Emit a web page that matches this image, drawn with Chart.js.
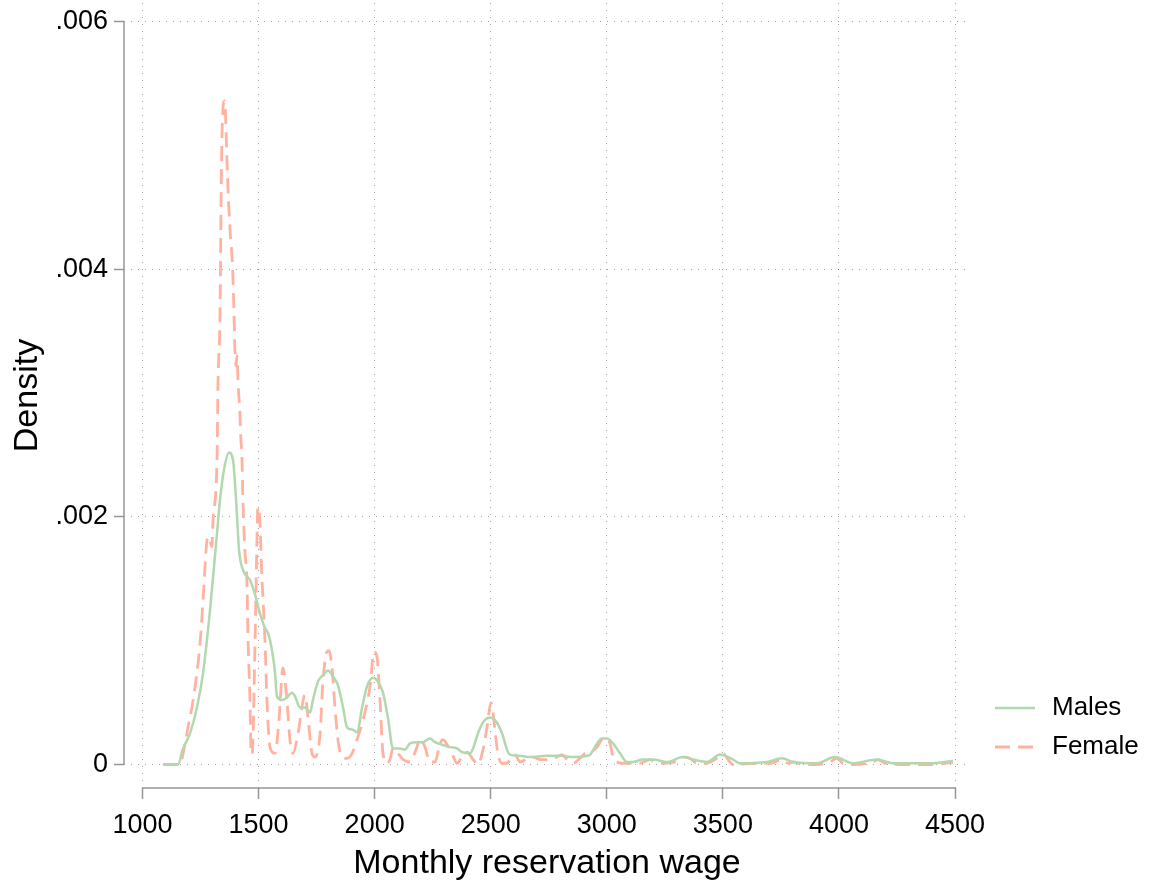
<!DOCTYPE html>
<html><head><meta charset="utf-8">
<script src="https://cdn.jsdelivr.net/npm/chart.js@4.4.0/dist/chart.umd.min.js"></script>
<style>html,body{margin:0;padding:0;background:#fff;overflow:hidden}</style>
</head><body>
<canvas id="c" width="1150" height="889" style="display:block;width:1150px;height:889px"></canvas>
<script>
const seriesNames = ['Males', 'Female'];
const xTicks = [1000, 1500, 2000, 2500, 3000, 3500, 4000, 4500];
const yTicks = [0, 0.002, 0.004, 0.006];
const yTickLabels = ['0', '.002', '.004', '.006'];
const xTitle = 'Monthly reservation wage';
const yTitle = 'Density';

const maleWage = [1088,1153,1174,1205,1235,1261,1291,1321,1334,1351,
1373,1390,1403,1416,1433,1454,1463,1485,1506,1528,
1541,1558,1571,1579,1601,1622,1644,1657,1678,1700,
1722,1734,1756,1777,1799,1821,1842,1864,1881,1907,
1924,1946,1967,1993,2014,2036,2057,2079,2109,2131,
2152,2182,2208,2238,2260,2290,2325,2355,2376,2411,
2424,2445,2467,2497,2518,2549,2570,2583,2626,2669,
2743,2799,2855,2915,2928,2958,2979,3001,3027,3057,
3087,3113,3156,3199,3259,3328,3371,3432,3488,3544,
3574,3690,3755,3802,3905,3983,4060,4164,4233,4405,4491];
const maleDensity = [0,0,0.000125,0.000254,0.000465,0.00074,0.00125,0.00187,0.00214,0.00238,
0.00252,0.00246,0.00214,0.00173,0.00157,0.00151,0.00149,0.00137,0.00122,0.00110,
0.00106,0.00092,0.00074,0.00055,0.00052,0.00054,0.00058,0.00055,0.00046,0.00046,
0.00042,0.00052,0.00067,0.00072,0.00076,0.00071,0.00064,0.00046,0.00030,0.00028,
0.00026,0.00046,0.00063,0.00070,0.00067,0.00058,0.00038,0.00013,0.00013,0.00012,
0.00017,0.00018,0.00018,0.00021,0.00018,0.00016,0.00014,0.00013,0.00010,0.00009,
0.00013,0.00025,0.00034,0.00038,0.00036,0.00025,0.00012,0.00008,0.00007,0.00006,
0.00007,0.00007,0.00006,0.00007,0.00008,0.00017,0.00021,0.00021,0.00017,0.00009,
0.00002,0.00002,0.00004,0.00004,0.00002,0.00006,0.00004,0.00002,0.00008,0.00004,
0.00001,0.00002,0.00005,0.00002,0.00001,0.00006,0.00001,0.00004,0.00001,0.00001,0.00003];

const femaleWage = [1088,1162,1174,1196,1218,1248,1261,1278,1286,1299,
1304,1321,1325,1334,1338,1342,1353,1357,1362,1368,
1377,1388,1394,1398,1403,1407,1411,1414,1418,1424,
1428,1433,1441,1450,1454,1463,1467,1472,1485,1493,
1497,1502,1515,1528,1536,1549,1571,1588,1605,1622,
1635,1648,1670,1700,1713,1730,1743,1765,1777,1794,
1803,1816,1829,1842,1859,1881,1903,1924,1950,1980,
1997,2010,2023,2036,2053,2066,2079,2101,2122,2152,
2182,2195,2217,2238,2260,2282,2295,2312,2333,2355,
2376,2398,2424,2445,2467,2484,2501,2510,2518,2531,
2549,2570,2592,2605,2626,2661,2682,2712,2755,2786,
2807,2829,2855,2885,2906,2928,2958,2979,3001,3014,
3027,3044,3070,3143,3186,3208,3242,3294,3336,3358,
3388,3431,3474,3500,3522,3544,3647,3703,3755,3781,
3802,3845,3905,3961,3991,4017,4060,4147,4168,4198,
4263,4405,4491];
const femaleDensity = [0,0,0.00008,0.00030,0.00052,0.00098,0.00133,0.00181,0.00184,0.00176,
0.00198,0.00246,0.00305,0.00365,0.00445,0.00504,0.00536,0.00528,0.00499,0.00466,
0.00432,0.00402,0.00365,0.00335,0.00322,0.00330,0.00312,0.00300,0.00290,0.00262,
0.00250,0.00211,0.00173,0.00147,0.00106,0.00052,0.00014,0.00008,0.00101,0.00181,
0.00208,0.00206,0.00149,0.00098,0.00052,0.00014,0.00009,0.00036,0.00078,0.00052,
0.00020,0.00009,0.00025,0.00056,0.00038,0.00009,0.00006,0.00025,0.00066,0.00091,
0.00092,0.00079,0.00046,0.00020,0.00006,0.00005,0.00009,0.00020,0.00036,0.00063,
0.00091,0.00087,0.00052,0.00009,0.00001,0.00004,0.00013,0.00009,0.00004,0.00002,
0.00014,0.00021,0.00014,0.00002,0.00002,0.00017,0.00020,0.00016,0.00009,0.00001,
0.00006,0.00010,0.00004,0,0.00012,0.00030,0.00050,0.00042,0.00028,0.00009,
0.00001,0.00001,0.00006,0.00008,0.00002,0.00005,0.00006,0.00004,0.00004,0.00006,
0.00008,0.00004,0.00001,0.00005,0.00009,0.00010,0.00014,0.00020,0.00021,0.00017,
0.00006,0.00002,0.00001,0.00001,0.00004,0.00002,0.00001,0.00002,0.00006,0.00005,
0.00001,0.00001,0.00005,0.00009,0.00004,0,0.00001,0.00001,0.00004,0.00001,
0.00002,0,0,0.00002,0.00005,0.00001,0,0.00002,0.00004,0.00001,
0,0,0.00002];

const GREEN = 'rgb(178,216,174)';
const SALMON = 'rgb(255,178,160)';
const AXIS = 'rgb(150,150,150)';
const FONT = '"Liberation Sans", Arial, sans-serif';

const toPts = (xs, ys) => xs.map((x, i) => ({x: x, y: ys[i]}));

const axisPlugin = {
  id: 'stataAxes',
  afterDraw(chart) {
    const ctx = chart.ctx, xs = chart.scales.x, ys = chart.scales.y, ca = chart.chartArea;
    ctx.save();
    ctx.strokeStyle = AXIS; ctx.lineWidth = 1.5; ctx.setLineDash([]);
    ctx.beginPath();
    ctx.moveTo(ca.left, ys.getPixelForValue(yTicks[0]));
    ctx.lineTo(ca.left, ys.getPixelForValue(yTicks[yTicks.length - 1]));
    ctx.moveTo(xs.getPixelForValue(xTicks[0]), ca.bottom);
    ctx.lineTo(xs.getPixelForValue(xTicks[xTicks.length - 1]), ca.bottom);
    ctx.stroke();
    // legend
    const ds = chart.data.datasets;
    const lx0 = 995, lx1 = 1035, tx = 1052, rowY = [708, 747];
    ctx.font = '26px ' + FONT; ctx.textBaseline = 'middle'; ctx.textAlign = 'left';
    ds.forEach((d, i) => {
      ctx.strokeStyle = d.borderColor; ctx.lineWidth = d.borderWidth;
      ctx.setLineDash(d.borderDash || []);
      ctx.beginPath(); ctx.moveTo(lx0, rowY[i]); ctx.lineTo(lx1, rowY[i]); ctx.stroke();
      ctx.setLineDash([]);
      ctx.fillStyle = '#000';
      ctx.fillText(d.label, tx, rowY[i]);
    });
    ctx.restore();
  }
};

const zeroPad = s => { s.paddingTop = 0; s.paddingBottom = 0; s.paddingLeft = 0; s.paddingRight = 0; };

new Chart(document.getElementById('c'), {
  type: 'line',
  data: {
    datasets: [
      {label: seriesNames[0], data: toPts(maleWage, maleDensity), borderColor: GREEN, borderWidth: 2.5,
       pointRadius: 0, cubicInterpolationMode: 'monotone', fill: false},
      {label: seriesNames[1], data: toPts(femaleWage, femaleDensity), borderColor: SALMON, borderWidth: 2.8,
       borderDash: [15, 8], pointRadius: 0, cubicInterpolationMode: 'monotone', fill: false}
    ]
  },
  options: {
    responsive: false, animation: false, devicePixelRatio: 1,
    layout: {padding: {left: 0, top: 3, right: 180, bottom: 0}},
    plugins: {legend: {display: false}, tooltip: {enabled: false}},
    scales: {
      x: {
        type: 'linear', min: 920.3, max: 4564.6,
        afterBuildTicks: s => { s.ticks = xTicks.map(v => ({value: v})); },
        afterFit: s => { s.height = 101; zeroPad(s); },
        ticks: {font: {family: FONT, size: 27}, color: '#000', padding: 10, maxRotation: 0, autoSkip: false,
                callback: v => String(v)},
        grid: {color: 'rgba(0,0,0,0.36)', lineWidth: 1, tickLength: 11, tickColor: AXIS, tickWidth: 1.5, tickBorderDash: []},
        border: {display: false, dash: [1, 6]},
        title: {display: true, text: xTitle, font: {family: FONT, size: 34}, color: '#000', padding: {top: 0, bottom: 5}}
      },
      y: {
        type: 'linear', min: -0.00019, max: 0.006151,
        afterBuildTicks: s => { s.ticks = yTicks.map(v => ({value: v})); },
        afterFit: s => { s.width = 124; zeroPad(s); },
        ticks: {font: {family: FONT, size: 27}, color: '#000', padding: 6, autoSkip: false,
                callback: (v) => { const i = yTicks.indexOf(v); return i >= 0 ? yTickLabels[i] : ''; }},
        grid: {color: 'rgba(0,0,0,0.36)', lineWidth: 1, tickLength: 10, tickColor: AXIS, tickWidth: 1.5, tickBorderDash: []},
        border: {display: false, dash: [1, 6]},
        title: {display: true, text: yTitle, font: {family: FONT, size: 34}, color: '#000', padding: {top: 7, bottom: 0}}
      }
    }
  },
  plugins: [axisPlugin]
});
</script>
</body></html>
